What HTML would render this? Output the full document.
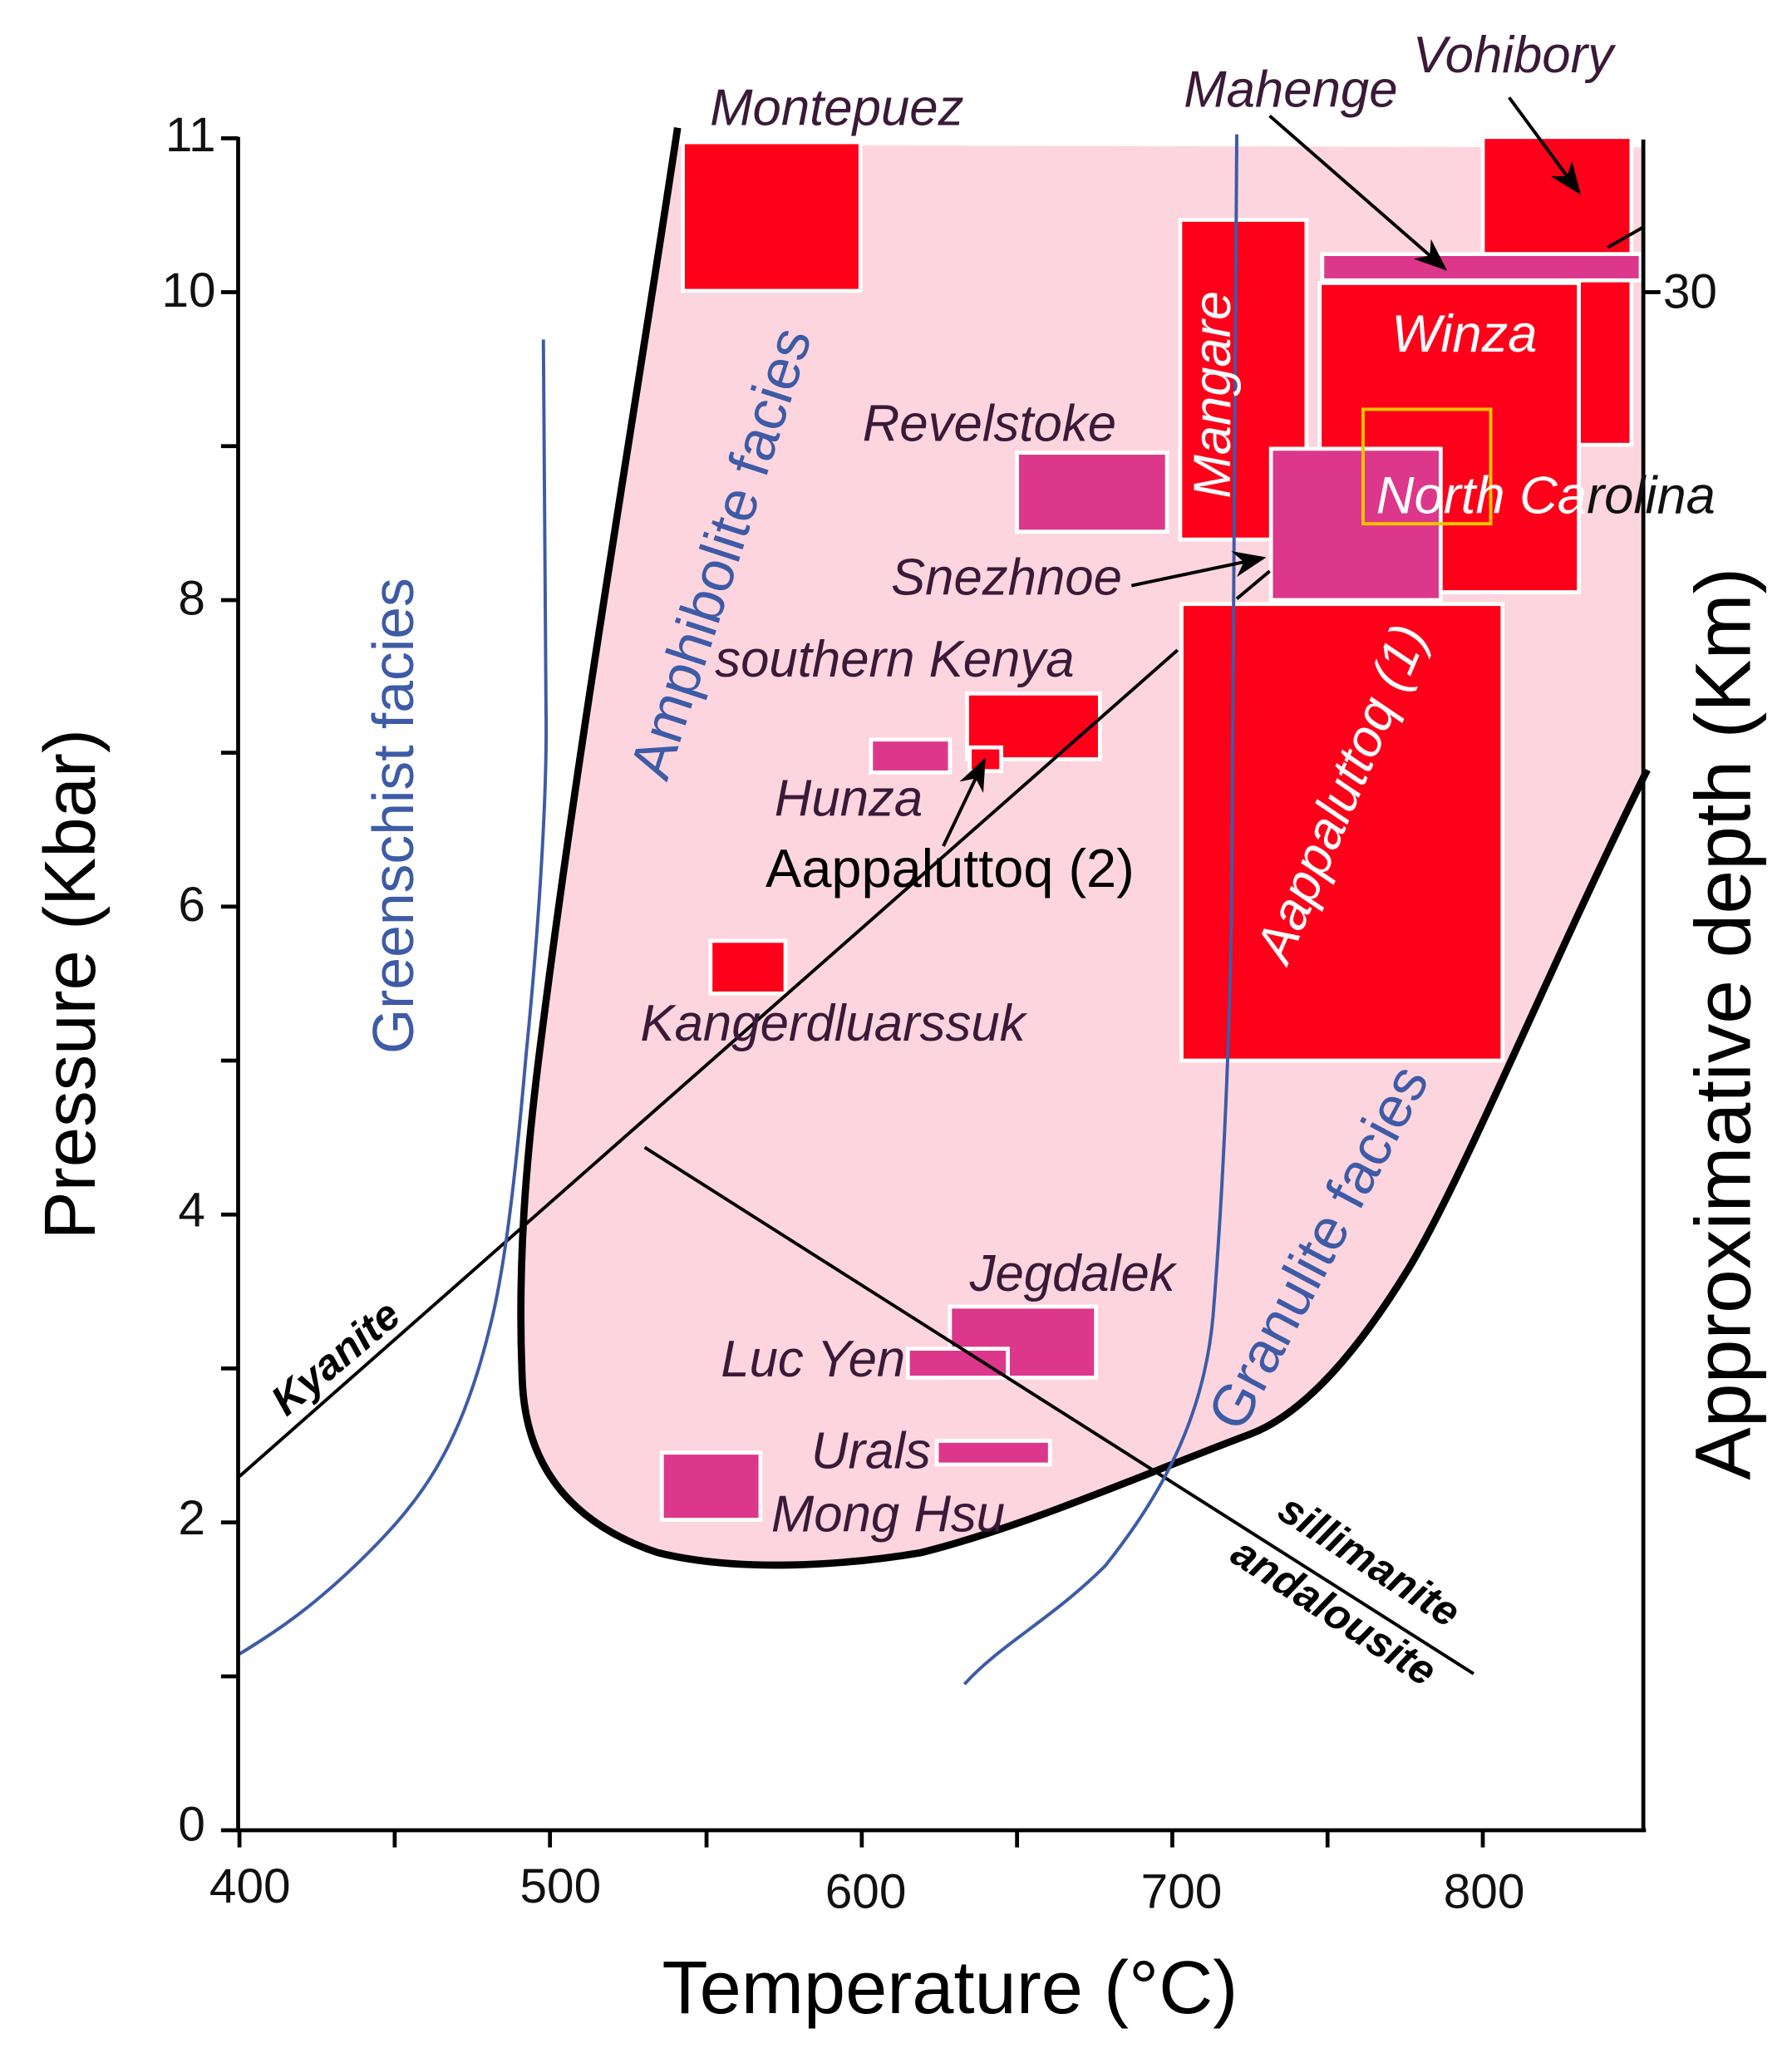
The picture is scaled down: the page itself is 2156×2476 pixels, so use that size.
<!DOCTYPE html>
<html><head><meta charset="utf-8"><style>
html,body{margin:0;padding:0;background:#fff}
svg{display:block}
text{font-family:"Liberation Sans","DejaVu Sans",sans-serif}
.lb{font-style:italic;fill:#3a1a38;font-size:39px}
.wh{font-style:italic;fill:#fff;font-size:40px}
.bl{fill:#3d5ba6;font-size:44px}
.tk{fill:#111;font-size:37px}
.bk{font-style:italic;font-weight:bold;fill:#000;font-size:32px}
</style></head><body>
<svg width="2156" height="2476" viewBox="0 0 1362 1564" xmlns="http://www.w3.org/2000/svg">
<defs><marker id="ah" markerWidth="10" markerHeight="8" refX="9" refY="4" orient="auto" markerUnits="strokeWidth"><path d="M0,0 L10,4 L0,8 L3,4 z" fill="#000"/></marker></defs>
<path d="M515,110 L1248,112 L1250,585 C1180,730 1110,900 1070,965 C1030,1030 990,1075 950,1090 C870,1120 780,1160 700,1180 C640,1190 560,1195 500,1180 C440,1160 400,1120 397,1050 C393,960 400,880 410,800 C440,560 480,330 515,110 Z" fill="#fdd5de"/>
<g stroke="#fff" stroke-width="3">
<rect x="519" y="108" width="135" height="113" fill="#fe0019"/>
<rect x="1127" y="104" width="113" height="234" fill="#fe0019"/>
<rect x="897" y="167" width="96" height="243" fill="#fe0019"/>
<rect x="1003" y="215" width="197" height="235" fill="#fe0019"/>
<rect x="1005" y="193" width="242" height="20" fill="#dc378a"/>
<rect x="966" y="341" width="129" height="115" fill="#dc378a"/>
<rect x="773" y="344" width="114" height="60" fill="#dc378a"/>
<rect x="898" y="459" width="244" height="347" fill="#fe0019"/>
<rect x="735" y="527" width="101" height="50" fill="#fe0019"/>
<rect x="662" y="562" width="60" height="25" fill="#dc378a"/>
<rect x="737" y="568" width="24" height="18" fill="#fe0019"/>
<rect x="540" y="715" width="57" height="40" fill="#fe0019"/>
<rect x="722" y="993" width="111" height="54" fill="#dc378a"/>
<rect x="690" y="1025" width="76" height="22" fill="#dc378a"/>
<rect x="712" y="1095" width="86" height="18" fill="#dc378a"/>
<rect x="503" y="1104" width="75" height="51" fill="#dc378a"/>
</g>
<rect x="1036" y="311" width="97" height="87" fill="none" stroke="#f5c400" stroke-width="2.5"/>
<path d="M515,97 C480,330 440,560 410,800 C400,880 393,960 397,1050 C400,1120 440,1160 500,1180 C560,1195 640,1190 700,1180 C780,1160 870,1120 950,1090 C990,1075 1030,1030 1070,965 C1110,900 1180,730 1252,585" fill="none" stroke="#000" stroke-width="5.5"/>
<path d="M1222,188 L1250,172" stroke="#000" stroke-width="2.5"/>
<path d="M182,1122 L895,494" stroke="#000" stroke-width="2.5" fill="none"/>
<path d="M940,455 L965,434" stroke="#000" stroke-width="2.5"/>
<path d="M490,872 L1120,1272" stroke="#000" stroke-width="2.5"/>
<path d="M413,258 L415,540 C416,600 410,700 400,800 C393,880 385,960 372,1010 C350,1100 320,1140 280,1180 C240,1220 210,1240 182,1257" fill="none" stroke="#3d5ba6" stroke-width="2.5"/>
<path d="M940,102 L936,700 C934,800 930,900 922,1000 C915,1080 880,1140 840,1190 C800,1230 760,1250 733,1280" fill="none" stroke="#3d5ba6" stroke-width="2.5"/>
<g stroke="#000" stroke-width="3" fill="none">
<path d="M181,104 L181,1391 L1251,1391"/>
<path d="M1249,106 L1249,1391"/>
<path d="M1249,222 L1262,222"/>
<path d="M168,1391 L181,1391 M168,1274 L181,1274 M168,1157 L181,1157 M168,1040 L181,1040 M168,923 L181,923 M168,806 L181,806 M168,689 L181,689 M168,572 L181,572 M168,456 L181,456 M168,339 L181,339 M168,222 L181,222 M168,105 L181,105"/>
<path d="M182,1391 L182,1404 M300,1391 L300,1404 M418,1391 L418,1404 M537,1391 L537,1404 M655,1391 L655,1404 M773,1391 L773,1404 M891,1391 L891,1404 M1009,1391 L1009,1404 M1127,1391 L1127,1404"/>
</g>
<g class="tk" text-anchor="end">
<text x="156" y="1399">0</text><text x="156" y="1166">2</text><text x="156" y="932">4</text><text x="156" y="700">6</text><text x="156" y="467">8</text><text x="164" y="233">10</text><text x="164" y="115">11</text>
</g>
<g class="tk" text-anchor="middle">
<text x="190" y="1446">400</text><text x="426" y="1446">500</text><text x="658" y="1450">600</text><text x="898" y="1450">700</text><text x="1128" y="1450">800</text>
</g>
<text class="tk" x="1264" y="234">30</text>
<text x="722" y="1530" text-anchor="middle" font-size="57" fill="#000">Temperature (°C)</text>
<text transform="translate(72,748) rotate(-90)" text-anchor="middle" font-size="55" fill="#000">Pressure (Kbar)</text>
<text transform="translate(1330,778) rotate(-90)" text-anchor="middle" font-size="60" fill="#000">Approximative depth (Km)</text>
<text class="lb" x="636" y="95" text-anchor="middle">Montepuez</text>
<text class="lb" x="981" y="81" text-anchor="middle">Mahenge</text>
<text class="lb" x="1150" y="55" text-anchor="middle">Vohibory</text>
<text class="lb" x="752" y="335" text-anchor="middle">Revelstoke</text>
<text class="lb" x="765" y="452" text-anchor="middle">Snezhnoe</text>
<text class="lb" x="680" y="514" text-anchor="middle">southern Kenya</text>
<text class="lb" x="645" y="620" text-anchor="middle">Hunza</text>
<text x="722" y="674" text-anchor="middle" font-size="41" fill="#000">Aappaluttoq (2)</text>
<text class="lb" x="633" y="791" text-anchor="middle">Kangerdluarssuk</text>
<text class="lb" x="815" y="981" text-anchor="middle">Jegdalek</text>
<text class="lb" x="618" y="1046" text-anchor="middle">Luc Yen</text>
<text class="lb" x="662" y="1116" text-anchor="middle">Urals</text>
<text class="lb" x="675" y="1164" text-anchor="middle">Mong Hsu</text>
<text class="wh" x="1113" y="267" text-anchor="middle">Winza</text>
<text class="wh" x="1046" y="390">North Ca<tspan fill="#111">rolina</tspan></text>
<text class="wh" transform="translate(935,300) rotate(-90)" text-anchor="middle">Mangare</text>
<text class="wh" transform="translate(1032,608) rotate(-67)" text-anchor="middle">Aappaluttoq (1)</text>
<text class="bl" transform="translate(314,620) rotate(-90)" text-anchor="middle">Greenschist facies</text>
<text class="bl" transform="translate(562,425) rotate(-72)" text-anchor="middle">Amphibolite facies</text>
<text class="bl" transform="translate(1015,955) rotate(-62)" text-anchor="middle">Granulite facies</text>
<text class="bk" transform="translate(262,1040) rotate(-40)" text-anchor="middle">Kyanite</text>
<text class="bk" transform="translate(1035,1195) rotate(33)" text-anchor="middle">sillimanite</text>
<text class="bk" transform="translate(1008,1234) rotate(33)" text-anchor="middle">andalousite</text>
<g stroke="#000" stroke-width="2.5" fill="none" marker-end="url(#ah)">
<path d="M965,88 L1098,204"/>
<path d="M1147,74 L1200,146"/>
<path d="M860,445 L960,424"/>
<path d="M717,643 L748,578"/>
</g>
</svg>
</body></html>
